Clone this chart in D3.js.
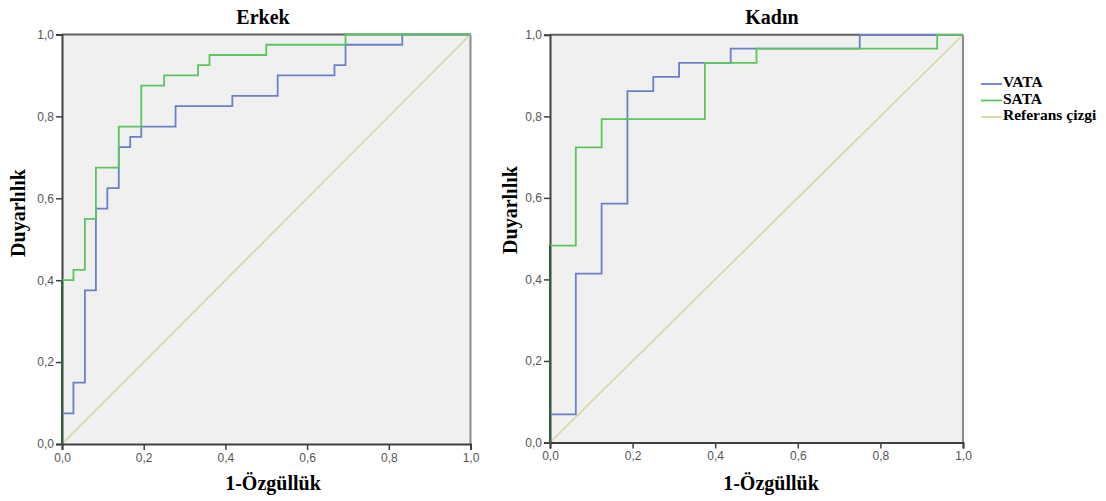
<!DOCTYPE html>
<html>
<head>
<meta charset="utf-8">
<script src="https://cdn.jsdelivr.net/npm/d3@7"></script>
<style>
  html, body { margin: 0; padding: 0; background: #ffffff; }
  svg { display: block; }
</style>
</head>
<body>
<svg id="chart" width="1106" height="501"></svg>
<script>
// ---- data ----
const panelTitles = ["Erkek", "Kadın"];
const tickValues = [0, 0.2, 0.4, 0.6, 0.8, 1.0];
const seriesNames = ["VATA", "SATA", "Referans çizgi"];

const erkekVATA_fpr = [0, 0, 0.028, 0.056, 0.083, 0.111, 0.139, 0.167, 0.194, 0.278, 0.417, 0.528, 0.667, 0.694, 0.833, 1];
const erkekVATA_tpr = [0, 0.075, 0.15, 0.375, 0.575, 0.625, 0.725, 0.75, 0.775, 0.825, 0.85, 0.9, 0.925, 0.975, 1, 1];
const erkekSATA_fpr = [0, 0, 0.028, 0.056, 0.083, 0.139, 0.194, 0.25, 0.333, 0.361, 0.5, 0.694, 1];
const erkekSATA_tpr = [0, 0.4, 0.425, 0.55, 0.675, 0.775, 0.875, 0.9, 0.925, 0.95, 0.975, 1, 1];

const kadinVATA_fpr = [0, 0, 0.0625, 0.125, 0.1875, 0.25, 0.3125, 0.4375, 0.75, 1];
const kadinVATA_tpr = [0, 0.069, 0.414, 0.586, 0.862, 0.897, 0.931, 0.966, 1, 1];
const kadinSATA_fpr = [0, 0, 0.0625, 0.125, 0.375, 0.5, 0.9375, 1];
const kadinSATA_tpr = [0, 0.483, 0.724, 0.793, 0.931, 0.966, 1, 1];

const referenceLine = [[0, 0], [1, 1]];

// ---- layout / style ----
const colors = { VATA: "#6a80c8", SATA: "#5cc55c", ref: "#d8d5a2" };
const panels = [
  { title: panelTitles[0], x0: 62, x1: 470.5, y0: 444, y1: 34.5, titleX: 263, xLabelX: 273, yLabelX: 25, yLabelY: 213,
    vata: [erkekVATA_fpr, erkekVATA_tpr], sata: [erkekSATA_fpr, erkekSATA_tpr] },
  { title: panelTitles[1], x0: 550, x1: 963, y0: 442.5, y1: 34.8, titleX: 772, xLabelX: 771, yLabelX: 517, yLabelY: 210,
    vata: [kadinVATA_fpr, kadinVATA_tpr], sata: [kadinSATA_fpr, kadinSATA_tpr] }
];

const svg = d3.select("#chart");
const fmt = v => d3.format(".1f")(v).replace(".", ",");
const serif = "'Liberation Serif', 'DejaVu Serif', serif";
const sans = "'Liberation Sans', Arial, sans-serif";

panels.forEach(p => {
  const x = d3.scaleLinear().domain([0, 1]).range([p.x0, p.x1]);
  const y = d3.scaleLinear().domain([0, 1]).range([p.y0, p.y1]);
  const g = svg.append("g");

  // plot background
  g.append("rect")
    .attr("x", x(0)).attr("y", y(1))
    .attr("width", x(1) - x(0)).attr("height", y(0) - y(1))
    .attr("fill", "#f0f0f0");

  // frame top & right
  g.append("line").attr("x1", x(0)).attr("x2", x(1)).attr("y1", y(1)).attr("y2", y(1))
    .attr("stroke", "#606060").attr("stroke-width", 2);
  g.append("line").attr("x1", x(1)).attr("x2", x(1)).attr("y1", y(1)).attr("y2", y(0))
    .attr("stroke", "#8c8c8c").attr("stroke-width", 2);

  // reference line
  const line = d3.line().x(d => x(d[0])).y(d => y(d[1]));
  g.append("path").datum(referenceLine).attr("d", line)
    .attr("fill", "none").attr("stroke", colors.ref).attr("stroke-width", 1.6);

  // axes
  const xAxis = d3.axisBottom(x).tickValues(tickValues).tickFormat(fmt).tickSize(6).tickPadding(3);
  const yAxis = d3.axisLeft(y).tickValues(tickValues).tickFormat(fmt).tickSize(6).tickPadding(2);
  const gx = g.append("g").attr("transform", `translate(0,${y(0)})`).call(xAxis);
  const gy = g.append("g").attr("transform", `translate(${x(0)},0)`).call(yAxis);
  [gx, gy].forEach(a => {
    a.select(".domain").attr("stroke", "#404040").attr("stroke-width", 2);
    a.selectAll(".tick line").attr("stroke", "#404040").attr("stroke-width", 1.5);
    a.selectAll(".tick text").attr("fill", "#555").style("font-family", sans).style("font-size", "12px");
  });

  // ROC step curves
  const step = d3.line().curve(d3.curveStepAfter).x(d => x(d[0])).y(d => y(d[1]));
  const toPts = s => s[0].map((v, i) => [v, s[1][i]]);
  g.append("path").datum(toPts(p.vata)).attr("d", step)
    .attr("fill", "none").attr("stroke", colors.VATA).attr("stroke-width", 1.8);
  g.append("path").datum(toPts(p.sata)).attr("d", step)
    .attr("fill", "none").attr("stroke", colors.SATA).attr("stroke-width", 1.8);
  // darker overlay where curve runs along the left axis
  g.append("line").attr("x1", x(0)).attr("x2", x(0)).attr("y1", y(0)).attr("y2", y(p.sata[1][1]))
    .attr("stroke", "#2f5f3c").attr("stroke-width", 2);

  // titles
  g.append("text").attr("x", p.titleX).attr("y", 24).attr("text-anchor", "middle")
    .style("font-family", serif).style("font-weight", "bold").style("font-size", "20px").text(p.title);
  g.append("text").attr("x", p.xLabelX).attr("y", 490).attr("text-anchor", "middle")
    .style("font-family", serif).style("font-weight", "bold").style("font-size", "20px").text("1-Özgüllük");
  g.append("text").attr("transform", `translate(${p.yLabelX},${p.yLabelY}) rotate(-90)`).attr("text-anchor", "middle")
    .style("font-family", serif).style("font-weight", "bold").style("font-size", "20px").text("Duyarlılık");
});

// legend
const legendColors = [colors.VATA, colors.SATA, colors.ref];
const lg = svg.append("g");
seriesNames.forEach((name, i) => {
  const ly = 84 + 16.5 * i;
  lg.append("line").attr("x1", 981).attr("x2", 1002).attr("y1", ly).attr("y2", ly)
    .attr("stroke", legendColors[i]).attr("stroke-width", 1.8);
  lg.append("text").attr("x", 1003).attr("y", ly + 3)
    .style("font-family", serif).style("font-weight", "bold").style("font-size", "15.5px").text(name);
});
</script>
</body>
</html>
